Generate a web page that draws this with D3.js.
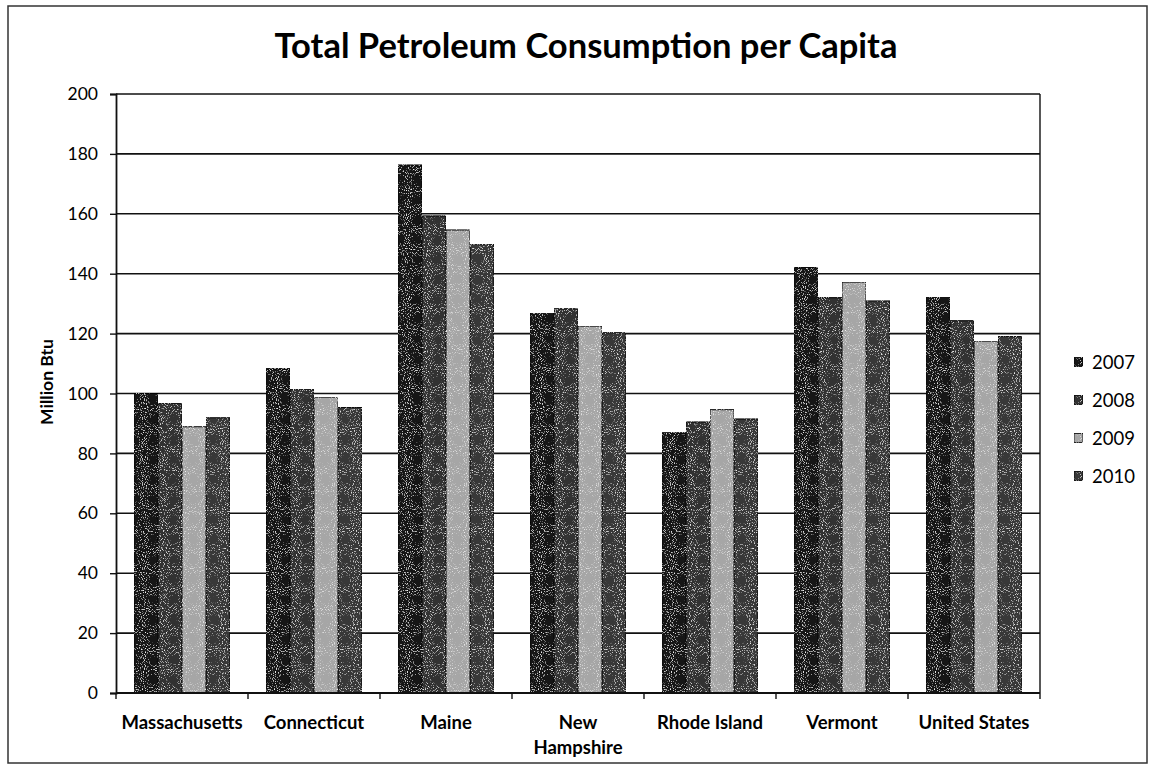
<!DOCTYPE html>
<html>
<head>
<meta charset="utf-8">
<script src="https://cdn.jsdelivr.net/npm/d3@7"></script>
<style>
  body { margin: 0; background: #fff; }
</style>
</head>
<body>
<script>
var categories = ["Massachusetts", "Connecticut", "Maine", "New Hampshire", "Rhode Island", "Vermont", "United States"];
var years = ["2007", "2008", "2009", "2010"];
var values2007 = [100.0, 108.3, 176.3, 126.8, 86.9, 142.1, 132.2];
var values2008 = [96.7, 101.4, 159.3, 128.3, 90.5, 132.0, 124.3];
var values2009 = [88.9, 98.8, 154.6, 122.5, 94.6, 137.2, 117.5];
var values2010 = [91.9, 95.3, 149.9, 120.3, 91.5, 130.9, 119.0];
var yTicks = [0, 20, 40, 60, 80, 100, 120, 140, 160, 180, 200];

var width = 1153, height = 770;
var plotLeft = 116, plotRight = 1040, plotTop = 94, plotBottom = 693;
var fontFamily = "Lato, 'Open Sans', sans-serif";
var yearColors = { "2007": "#141414", "2008": "#303030", "2009": "#a6a6a6", "2010": "#373737" };
var lineColor = "#111";

var seriesByYear = {
  "2007": values2007,
  "2008": values2008,
  "2009": values2009,
  "2010": values2010
};
var rows = categories.map(function(cat, i) {
  return { category: cat, values: years.map(function(y) { return { year: y, value: seriesByYear[y][i] }; }) };
});

var svg = d3.select("body")
  .append("svg")
    .attr("width", width)
    .attr("height", height)
    .attr("font-family", fontFamily);

// speckle texture, like the scanned original
var defs = svg.append("defs");
var speckle = defs.append("filter")
  .attr("id", "speckle")
  .attr("x", 0).attr("y", 0).attr("width", 1).attr("height", 1);
speckle.append("feTurbulence")
  .attr("type", "fractalNoise")
  .attr("baseFrequency", 0.95)
  .attr("numOctaves", 1)
  .attr("seed", 3)
  .attr("result", "noise");
speckle.append("feColorMatrix")
  .attr("in", "noise")
  .attr("type", "matrix")
  .attr("values", "0 0 0 0 0.85  0 0 0 0 0.85  0 0 0 0 0.85  0 0 0 5 -2.9")
  .attr("result", "dots");
speckle.append("feComposite")
  .attr("in", "dots")
  .attr("in2", "SourceGraphic")
  .attr("operator", "in")
  .attr("result", "clipped");
var merge = speckle.append("feMerge");
merge.append("feMergeNode").attr("in", "SourceGraphic");
merge.append("feMergeNode").attr("in", "clipped");

// outer chart frame
svg.append("rect")
  .attr("x", 8)
  .attr("y", 6)
  .attr("width", 1139)
  .attr("height", 757)
  .attr("fill", "none")
  .attr("stroke", "#333")
  .attr("stroke-width", 1.5);

svg.append("text")
  .attr("x", 586)
  .attr("y", 58)
  .attr("text-anchor", "middle")
  .attr("font-size", 34.5)
  .attr("font-weight", "bold")
  .attr("fill", "#000")
  .text("Total Petroleum Consumption per Capita");

var x0 = d3.scaleBand()
  .domain(categories)
  .range([plotLeft, plotRight])
  .paddingInner(36 / 132)
  .paddingOuter(18 / 132);

var x1 = d3.scaleBand()
  .domain(years)
  .range([0, x0.bandwidth()]);

var y = d3.scaleLinear()
  .domain([0, 200])
  .range([plotBottom, plotTop]);

// gridlines
svg.append("g")
  .selectAll("line")
  .data(yTicks.filter(function(t) { return t > 0; }))
  .join("line")
    .attr("x1", plotLeft)
    .attr("x2", plotRight)
    .attr("y1", function(d) { return y(d); })
    .attr("y2", function(d) { return y(d); })
    .attr("stroke", lineColor)
    .attr("stroke-width", 1.6);

// right edge of plot area
svg.append("line")
  .attr("x1", plotRight).attr("x2", plotRight)
  .attr("y1", plotTop).attr("y2", plotBottom)
  .attr("stroke", lineColor)
  .attr("stroke-width", 1.4);

// bars
var groups = svg.append("g")
  .selectAll("g")
  .data(rows)
  .join("g")
    .attr("transform", function(d) { return "translate(" + x0(d.category) + ",0)"; });

groups.selectAll("rect")
  .data(function(d) { return d.values; })
  .join("rect")
    .attr("x", function(d) { return x1(d.year); })
    .attr("y", function(d) { return y(d.value); })
    .attr("width", x1.bandwidth())
    .attr("height", function(d) { return y(0) - y(d.value); })
    .attr("fill", function(d) { return yearColors[d.year]; })
    .attr("stroke", "#050505")
    .attr("stroke-width", 1)
    .attr("filter", "url(#speckle)");

// y axis
var yAxis = svg.append("g")
  .attr("transform", "translate(" + plotLeft + ",0)")
  .call(d3.axisLeft(y).tickValues(yTicks).tickSize(6).tickPadding(12));
yAxis.select(".domain").attr("stroke", lineColor).attr("stroke-width", 1.8);
yAxis.selectAll(".tick line").attr("stroke", lineColor).attr("stroke-width", 1.4);
yAxis.selectAll(".tick text")
  .attr("font-family", fontFamily)
  .attr("font-size", 17.5)
  .attr("fill", "#000");

// x axis with ticks at category boundaries
var xAxisG = svg.append("g");
xAxisG.append("line")
  .attr("x1", plotLeft).attr("x2", plotRight)
  .attr("y1", plotBottom).attr("y2", plotBottom)
  .attr("stroke", lineColor)
  .attr("stroke-width", 1.8);
xAxisG.selectAll("line.boundary")
  .data(categories.concat(["end"]))
  .join("line")
    .attr("class", "boundary")
    .attr("x1", function(d, i) { return i < categories.length ? x0(d) - x0.step() * x0.paddingInner() / 2 : plotRight; })
    .attr("x2", function(d, i) { return i < categories.length ? x0(d) - x0.step() * x0.paddingInner() / 2 : plotRight; })
    .attr("y1", plotBottom)
    .attr("y2", plotBottom + 6)
    .attr("stroke", lineColor)
    .attr("stroke-width", 1.4);

var catLabels = xAxisG.selectAll("text")
  .data(categories)
  .join("text")
    .attr("x", function(d) { return x0(d) + x0.bandwidth() / 2; })
    .attr("y", 729)
    .attr("text-anchor", "middle")
    .attr("font-size", 18.5)
    .attr("font-weight", "bold")
    .attr("fill", "#000");
catLabels.each(function(d) {
  var t = d3.select(this);
  var cx = x0(d) + x0.bandwidth() / 2;
  if (d === "New Hampshire") {
    t.append("tspan").attr("x", cx).attr("dy", 0).text("New");
    t.append("tspan").attr("x", cx).attr("dy", 25).text("Hampshire");
  } else {
    t.text(d);
  }
});

// y axis title
svg.append("text")
  .attr("transform", "translate(53,382) rotate(-90)")
  .attr("text-anchor", "middle")
  .attr("font-size", 17.5)
  .attr("font-weight", "bold")
  .attr("fill", "#000")
  .text("Million Btu");

// legend
var legend = svg.append("g")
  .selectAll("g")
  .data(years)
  .join("g")
    .attr("transform", function(d, i) { return "translate(1074," + (362 + i * 38) + ")"; });
legend.append("rect")
  .attr("x", 0)
  .attr("y", -4.5)
  .attr("width", 9)
  .attr("height", 9)
  .attr("fill", function(d) { return yearColors[d]; })
  .attr("stroke", "#000")
  .attr("stroke-width", 0.8)
  .attr("filter", "url(#speckle)");
legend.append("text")
  .attr("x", 18)
  .attr("y", 0)
  .attr("dy", "0.36em")
  .attr("font-size", 18.5)
  .attr("fill", "#000")
  .text(function(d) { return d; });
</script>
</body>
</html>
